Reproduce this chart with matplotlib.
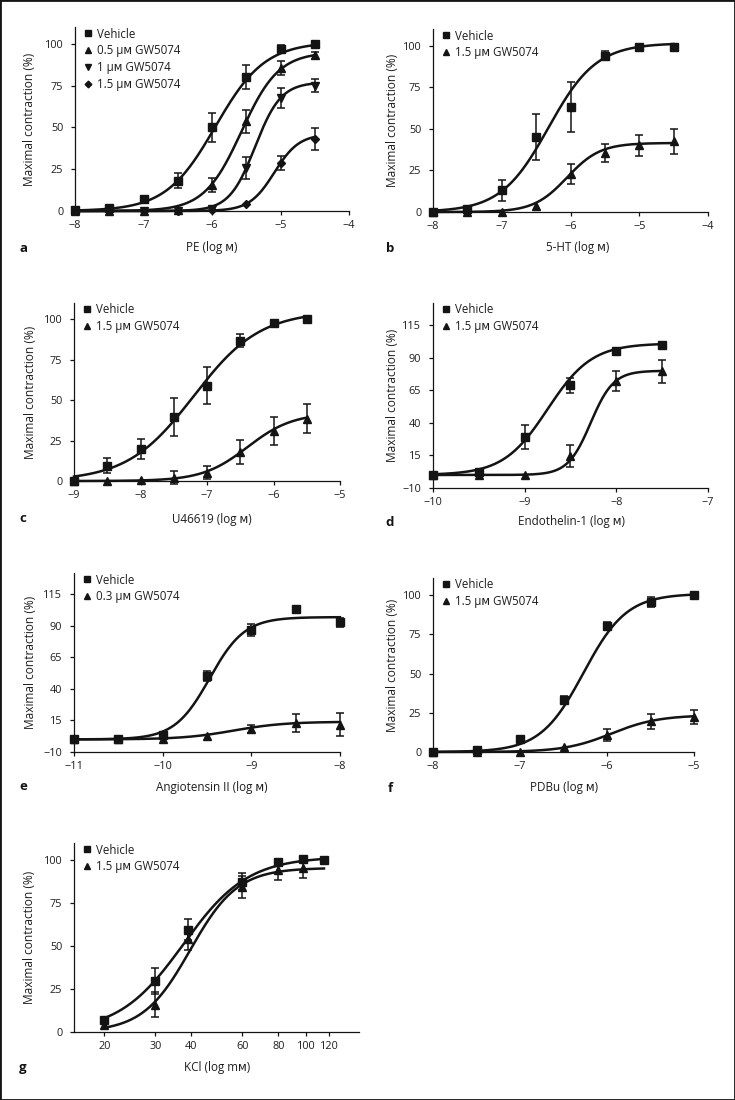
import numpy as np
import matplotlib
matplotlib.use("Agg")
import matplotlib.pyplot as plt
from matplotlib.patches import Rectangle
from matplotlib.ticker import FixedLocator, FixedFormatter, NullLocator

plt.rcParams['font.family'] = ['Open Sans', 'DejaVu Sans']
plt.rcParams['axes.unicode_minus'] = True

W, H = 735, 1100
INK = '#141414'
M = '\u1d0d'   # small-cap M used in "log M" / "µM"

# ---------------- data ----------------
# a  PE
pe_x = [-8, -7.5, -7, -6.5, -6, -5.5, -5, -4.5]
pe_veh = [0.5, 2, 7, 18, 50, 80, 97, 100]
pe_veh_err = [1, 1, 2, 4.5, 8.5, 7, 2, 1]
pe_05 = [0, 0, 0, 0.3, 15.6, 53.6, 85.6, 93]
pe_05_err = [0, 0, 0, 0, 4, 7, 4, 2]
pe_1 = [0, 0, 0, 0, 1, 25.6, 67.6, 75]
pe_1_err = [0, 0, 0, 0, 0, 6.5, 6, 4]
pe_15 = [0, 0, 0, 0, 0.3, 4, 28.6, 43]
pe_15_err = [0, 0, 0, 0, 0, 0, 4, 6.5]
# fitted curves: bottom, top, logEC50, Hill slope
pe_veh_fit = [0, 101, -5.95, 1.2]
pe_05_fit = [0, 95, -5.57, 1.6]
pe_1_fit = [0, 77, -5.37, 2.3]
pe_15_fit = [0, 46, -5.09, 2.4]

# b  5-HT
ht_x = [-8, -7.5, -7, -6.5, -6, -5.5, -5, -4.5]
ht_veh = [0, 2, 13, 45, 63, 94, 99, 99]
ht_veh_err = [0, 0, 6.5, 14, 15, 2.5, 1, 1]
ht_15 = [0, 0, 0, 3.6, 23, 35.4, 40, 42.4]
ht_15_err = [0, 0, 0, 0, 6, 5.5, 6.5, 7.5]
ht_veh_fit = [0, 101.5, -6.32, 1.25]
ht_15_fit = [0, 41.5, -6.05, 1.8]

# c  U46619
u_x = [-9, -8.5, -8, -7.5, -7, -6.5, -6, -5.5]
u_veh = [0, 9.5, 19.7, 39.6, 59, 86.7, 97.7, 100]
u_veh_err = [0, 4.7, 6.2, 12, 11.3, 4, 1, 1]
u_15 = [0, 0, 0.5, 2, 5.2, 17.8, 31, 38.6]
u_15_err = [0, 0, 0, 4, 4, 7.5, 8.7, 9]
u_veh_fit = [0, 105, -7.2, 0.87]
u_15_fit = [0, 42, -6.39, 1.28]

# d  Endothelin-1
et_x = [-10, -9.5, -9, -8.5, -8, -7.5]
et_veh = [0, 2, 29.2, 68.9, 95.3, 99.6]
et_veh_err = [0, 0, 9, 5.8, 1.5, 1]
et_15 = [0, 0, 0, 14.6, 72.2, 79.6]
et_15_err = [0, 0, 0, 8.5, 7.5, 9]
et_veh_fit = [0, 101, -8.75, 1.8]
et_15_fit = [0, 80, -8.28, 3.5]

# e  Angiotensin II
ang_x = [-11, -10.5, -10, -9.5, -9, -8.5, -8]
ang_veh = [0, 0.3, 3.7, 50, 86.8, 103.5, 93]
ang_veh_err = [0, 0, 1.5, 4, 4.6, 0, 3.5]
ang_03 = [0, 0, 0.5, 2.6, 8.4, 12.9, 11.8]
ang_03_err = [0, 0, 0, 0, 3.4, 7, 9]
ang_veh_fit = [0, 97, -9.47, 2.2]
ang_03_fit = [0, 14, -9.2, 1.5]

# f  PDBu
pdbu_x = [-8, -7.5, -7, -6.5, -6, -5.5, -5]
pdbu_veh = [0, 1, 8.5, 33.3, 80.3, 95.8, 100]
pdbu_veh_err = [0, 1, 1, 2.5, 2.5, 3, 1]
pdbu_15 = [0, 0, 0, 3, 10.8, 19.5, 22.2]
pdbu_15_err = [0, 0, 0, 0, 4, 5, 4.5]
pdbu_veh_fit = [0, 101, -6.27, 1.75]
pdbu_15_fit = [0, 23.5, -5.95, 1.6]

# g  KCl (mM, log axis)
kcl_x = [20, 30, 39, 60, 80, 97, 115]
kcl_veh = [6.8, 29.7, 59.6, 87.4, 99, 100.4, 100]
kcl_veh_err = [1, 7.8, 6.3, 5, 1.5, 1.5, 0]
kcl_x_gw = [20, 30, 39, 60, 80, 97]
kcl_15 = [3.9, 16, 54.4, 84.5, 94.2, 95.7]
kcl_15_err = [0, 7, 6.8, 6.4, 5.8, 6]
kcl_veh_fit = [0, 102, 1.574, 3.9]
kcl_15_fit = [0, 95.5, 1.598, 5.3]
kcl_ticks = [20, 30, 40, 60, 80, 100, 120]


def hill(x, bottom, top, logec50, slope):
    return bottom + (top - bottom) / (1 + 10 ** ((logec50 - x) * slope))


fig = plt.figure(figsize=(W / 100, H / 100), dpi=100)


def make_axes(l, t, r, b):
    return fig.add_axes([l / W, 1 - b / H, (r - l) / W, (b - t) / H])


def draw_series(ax, x, y, err, fit, marker, ms, label, logx=False, x_end=None):
    x = np.asarray(x, float)
    y = np.asarray(y, float)
    err = np.asarray(err, float)
    lo = np.log10(x[0]) if logx else x[0]
    hi = x[-1] if x_end is None else x_end
    hi = np.log10(hi) if logx else hi
    xx = np.linspace(lo, hi, 300)
    yy = hill(xx, *fit)
    ax.plot(10 ** xx if logx else xx, yy, color=INK, lw=1.8, clip_on=False, zorder=2)
    keep = err > 0
    ax.errorbar(x[keep], y[keep], yerr=err[keep], fmt='none', ecolor=INK,
                elinewidth=1.1, capsize=2.8, capthick=1.1, clip_on=False, zorder=3)
    ax.plot(x, y, ls='none', marker=marker, ms=ms, color=INK, mec=INK,
            label=label, clip_on=False, zorder=4)


def style(ax, rect, xlim, xticks, ylim, yticks, xlabel, letter, ylab_x, label_y):
    l, t, r, b = rect
    ax.set_xlim(*xlim)
    ax.set_ylim(*ylim)
    ax.set_yticks(yticks)
    if xticks is not None:
        ax.set_xticks(xticks)
    for s in ['top', 'right']:
        ax.spines[s].set_visible(False)
    for s in ['left', 'bottom']:
        ax.spines[s].set_linewidth(0.9)
        ax.spines[s].set_color(INK)
    ax.tick_params(direction='out', length=3, width=0.9, color=INK,
                   labelsize=7.8, labelcolor='#1e1e1e')
    ax.tick_params(axis='y', pad=5.5)
    ax.tick_params(axis='x', pad=3.5)
    ax.set_facecolor('none')

    ax.set_ylabel('Maximal contraction (%)', fontsize=8.6, color='#1e1e1e')
    ax.yaxis.label.set_va('center')
    ax.yaxis.set_label_coords((ylab_x - l) / (r - l), 0.5)
    ax.set_xlabel(xlabel, fontsize=8.4, color='#1e1e1e')
    ax.xaxis.label.set_va('center')
    xl_x, xl_y = label_y
    ax.xaxis.set_label_coords((xl_x - l) / (r - l), (b - xl_y) / (b - t))

    lx = 7.5 / (r - l)
    ly = 1 - 0.5 / (b - t)
    ax.legend(loc='upper left', bbox_to_anchor=(lx, ly), frameon=False,
              fontsize=8.3, handlelength=1.0, handletextpad=0.3,
              labelspacing=0.33, borderpad=0, borderaxespad=0,
              markerscale=0.85, labelcolor='#1e1e1e')

    lx_px = 23 if l < 200 else 390
    fig.text(lx_px / W, 1 - xl_y / H, letter, fontsize=9.5, fontweight='bold',
             ha='center', va='center', color=INK)


veh = 'Vehicle'

# a
rect = (75, 27, 349, 211)
ax = make_axes(*rect)
draw_series(ax, pe_x, pe_veh, pe_veh_err, pe_veh_fit, 's', 5.5, veh)
draw_series(ax, pe_x, pe_05, pe_05_err, pe_05_fit, '^', 5.5, f'0.5 µ{M} GW5074')
draw_series(ax, pe_x, pe_1, pe_1_err, pe_1_fit, 'v', 5.5, f'1 µ{M} GW5074')
draw_series(ax, pe_x, pe_15, pe_15_err, pe_15_fit, 'D', 4, f'1.5 µ{M} GW5074')
style(ax, rect, (-8, -4), range(-8, -3), (0, 110), [0, 25, 50, 75, 100],
      f'PE (log {M})', 'a', 30, (212, 248))

# b
rect = (433, 29, 708, 212)
ax = make_axes(*rect)
draw_series(ax, ht_x, ht_veh, ht_veh_err, ht_veh_fit, 's', 5.5, veh)
draw_series(ax, ht_x, ht_15, ht_15_err, ht_15_fit, '^', 5.5, f'1.5 µ{M} GW5074')
style(ax, rect, (-8, -4), range(-8, -3), (0, 110), [0, 25, 50, 75, 100],
      f'5-HT (log {M})', 'b', 392, (578, 248))

# c
rect = (74, 303, 340, 481)
ax = make_axes(*rect)
draw_series(ax, u_x, u_veh, u_veh_err, u_veh_fit, 's', 5.5, veh)
draw_series(ax, u_x, u_15, u_15_err, u_15_fit, '^', 5.5, f'1.5 µ{M} GW5074')
style(ax, rect, (-9, -5), range(-9, -4), (0, 110), [0, 25, 50, 75, 100],
      f'U46619 (log {M})', 'c', 30, (212, 519))

# d
rect = (433, 303, 708, 488)
ax = make_axes(*rect)
draw_series(ax, et_x, et_veh, et_veh_err, et_veh_fit, 's', 5.5, veh)
draw_series(ax, et_x, et_15, et_15_err, et_15_fit, '^', 5.5, f'1.5 µ{M} GW5074')
style(ax, rect, (-10, -7), range(-10, -6), (-10, 132), [-10, 15, 40, 65, 90, 115],
      f'Endothelin-1 (log {M})', 'd', 392, (571, 522))

# e
rect = (74, 573, 340, 752)
ax = make_axes(*rect)
draw_series(ax, ang_x, ang_veh, ang_veh_err, ang_veh_fit, 's', 5.5, veh)
draw_series(ax, ang_x, ang_03, ang_03_err, ang_03_fit, '^', 5.5, f'0.3 µ{M} GW5074')
style(ax, rect, (-11, -8), range(-11, -7), (-10, 132), [-10, 15, 40, 65, 90, 115],
      f'Angiotensin II (log {M})', 'e', 30, (212, 787))

# f
rect = (433, 578, 694, 752)
ax = make_axes(*rect)
draw_series(ax, pdbu_x, pdbu_veh, pdbu_veh_err, pdbu_veh_fit, 's', 5.5, veh)
draw_series(ax, pdbu_x, pdbu_15, pdbu_15_err, pdbu_15_fit, '^', 5.5, f'1.5 µ{M} GW5074')
style(ax, rect, (-8, -5), range(-8, -4), (0, 111), [0, 25, 50, 75, 100],
      f'PDBu (log {M})', 'f', 392, (564, 788))

# g
rect = (74, 843, 359, 1032)
ax = make_axes(*rect)
ax.set_xscale('log')
draw_series(ax, kcl_x, kcl_veh, kcl_veh_err, kcl_veh_fit, 's', 5.5, veh, logx=True)
draw_series(ax, kcl_x_gw, kcl_15, kcl_15_err, kcl_15_fit, '^', 5.5, f'1.5 µ{M} GW5074',
            logx=True, x_end=kcl_x[-1])
style(ax, rect, (15.7, 152), None, (0, 110), [0, 25, 50, 75, 100],
      f'KCl (log m{M})', 'g', 30, (217, 1067))
ax.xaxis.set_major_locator(FixedLocator(kcl_ticks))
ax.xaxis.set_major_formatter(FixedFormatter([str(v) for v in kcl_ticks]))
ax.xaxis.set_minor_locator(NullLocator())

# frame round the whole figure
fig.patches.append(Rectangle((0, 0), 1, 1, transform=fig.transFigure,
                             fill=False, lw=2.0, ec=INK))

fig.savefig('out.png', dpi=100)
